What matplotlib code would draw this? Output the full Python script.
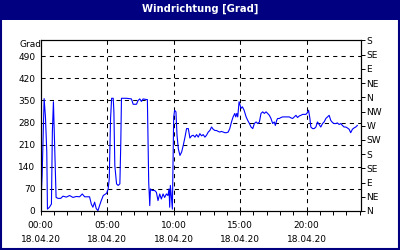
import matplotlib
matplotlib.use("Agg")
import matplotlib.pyplot as plt
from matplotlib.patches import Rectangle

NAVY = "#000080"
LINE = "#0000ff"

# wind direction in degrees vs hours since 00:00 on 18.04.20
hours = [
    0.00, 0.10, 0.25, 0.35, 0.45, 0.50, 0.65, 0.80, 0.87, 0.95, 1.05, 1.15,
    1.30, 1.50, 1.67, 1.92, 2.17, 2.42, 2.67, 2.92, 3.12, 3.30, 3.50, 3.67,
    3.80, 3.92, 4.05, 4.17, 4.30, 4.42, 4.55, 4.70, 4.95, 5.07, 5.15, 5.25,
    5.33, 5.45, 5.50, 5.57, 5.70, 5.82, 5.95, 6.02, 6.07, 6.45, 6.82, 6.95,
    7.20, 7.32, 7.45, 7.57, 7.70, 7.95, 8.02, 8.12, 8.20, 8.25, 8.37, 8.57,
    8.70, 8.82, 8.95, 9.07, 9.20, 9.32, 9.45, 9.57, 9.65, 9.70, 9.75, 9.82,
    9.90, 10.00, 10.07, 10.17, 10.25, 10.35, 10.47, 10.60, 10.72, 10.85, 10.97, 11.10,
    11.22, 11.35, 11.47, 11.60, 11.72, 11.85, 11.97, 12.10, 12.22, 12.35, 12.47, 12.60,
    12.72, 12.85, 12.97, 13.10, 13.22, 13.35, 13.47, 13.60, 13.72, 13.85, 13.97, 14.10,
    14.22, 14.35, 14.47, 14.60, 14.67, 14.75, 14.82, 14.92, 15.00, 15.07, 15.17, 15.30,
    15.45, 15.57, 15.70, 15.82, 15.95, 16.07, 16.20, 16.32, 16.45, 16.57, 16.70, 16.82,
    16.95, 17.07, 17.20, 17.32, 17.45, 17.57, 17.65, 17.75, 17.82, 17.95, 18.07, 18.20,
    18.32, 18.45, 18.57, 18.70, 18.82, 18.95, 19.07, 19.20, 19.32, 19.45, 19.57, 19.70,
    19.82, 19.95, 20.07, 20.15, 20.25, 20.32, 20.45, 20.57, 20.70, 20.82, 20.95, 21.07,
    21.20, 21.32, 21.45, 21.57, 21.70, 21.82, 21.95, 22.07, 22.20, 22.32, 22.45, 22.57,
    22.70, 22.82, 22.95, 23.07, 23.20, 23.32, 23.45, 23.57, 23.70, 23.82,
]
direction = [
    22, 112, 356, 298, 187, 6, 12, 22, 250, 346, 197, 43,
    40, 40, 47, 44, 49, 43, 46, 45, 54, 45, 45, 45,
    22, 12, 28, 8, 1, 17, 33, 49, 56, 70, 102, 293,
    357, 357, 314, 144, 86, 81, 86, 218, 357, 357, 355, 338,
    338, 350, 355, 347, 355, 353, 353, 91, 17, 70, 65, 65,
    59, 33, 54, 38, 54, 43, 54, 49, 70, 12, 81, 49,
    6, 298, 319, 314, 240, 197, 176, 187, 208, 234, 261, 261,
    231, 238, 240, 234, 242, 234, 245, 238, 242, 234, 240, 250,
    255, 266, 259, 255, 255, 252, 250, 252, 250, 248, 248, 250,
    261, 282, 298, 309, 298, 309, 298, 346, 335, 325, 330, 319,
    298, 287, 277, 266, 261, 277, 282, 277, 282, 309, 314, 309,
    314, 309, 303, 293, 277, 282, 271, 287, 293, 293, 296, 298,
    298, 298, 298, 298, 295, 293, 298, 303, 296, 301, 303, 306,
    306, 306, 312, 319, 293, 266, 261, 261, 266, 282, 274, 266,
    277, 282, 293, 298, 303, 287, 280, 277, 277, 279, 274, 277,
    271, 266, 266, 263, 259, 248, 259, 263, 266, 271,
]

left_ticks = [0, 70, 140, 210, 280, 350, 420, 490]
compass_ticks = [0, 45, 90, 135, 180, 225, 270, 315, 360, 405, 450, 495, 540]
compass_labels = ["N", "NE", "E", "SE", "S", "SW", "W", "NW", "N", "NE", "E", "SE", "S"]
x_ticks = [0, 5, 10, 15, 20]
x_labels = ["00:00\n18.04.20", "05:00\n18.04.20", "10:00\n18.04.20",
            "15:00\n18.04.20", "20:00\n18.04.20"]

plt.rcParams.update({"font.family": "DejaVu Sans", "font.size": 6.5})

fig = plt.figure(figsize=(4, 2.5), dpi=100)
fig.patch.set_facecolor("white")
# title bar + frame
fig.patches.append(Rectangle((0, 1 - 20 / 250), 1, 20 / 250, transform=fig.transFigure,
                             facecolor=NAVY, edgecolor="none", zorder=0))
fig.patches.append(Rectangle((0.002, 0.003), 0.996, 0.994, transform=fig.transFigure,
                             facecolor="none", edgecolor=NAVY, lw=1.5, zorder=0))
fig.text(0.5, 1 - 9 / 250, "Windrichtung [Grad]", color="white", fontweight="bold",
         fontsize=7.2, ha="center", va="center")

ax = fig.add_axes([0.102, 0.156, 0.8, 0.682])
ax.plot(hours, direction, color=LINE, lw=0.8, zorder=3)
ax.set_xlim(0, 24.08)
ax.set_ylim(0, 540)

ax.set_yticks(left_ticks)
ax.tick_params(axis="y", length=0, pad=4)
ax.set_xticks(x_ticks)
ax.set_xticklabels(x_labels, linespacing=1.7)
ax.set_xticks(range(0, 25), minor=True)
ax.tick_params(axis="x", which="both", length=3, width=0.7, pad=4)

for v in left_ticks[1:]:
    ax.axhline(v, color="black", lw=0.75, ls=(0, (4, 4)), zorder=1)
for v in x_ticks[1:]:
    ax.axvline(v, color="black", lw=0.75, ls=(0, (4, 4)), zorder=1)
for s in ax.spines.values():
    s.set_linewidth(0.8)

ax2 = ax.twinx()
ax2.set_ylim(0, 540)
ax2.set_yticks(compass_ticks)
ax2.set_yticklabels(compass_labels)
ax2.tick_params(axis="y", length=3, width=0.7, pad=1)
for s in ax2.spines.values():
    s.set_linewidth(0.8)

fig.text(0.05, 1 - 45 / 250, "Grad", ha="left", va="center", fontsize=6.5)

fig.savefig("out.png", dpi=100)
